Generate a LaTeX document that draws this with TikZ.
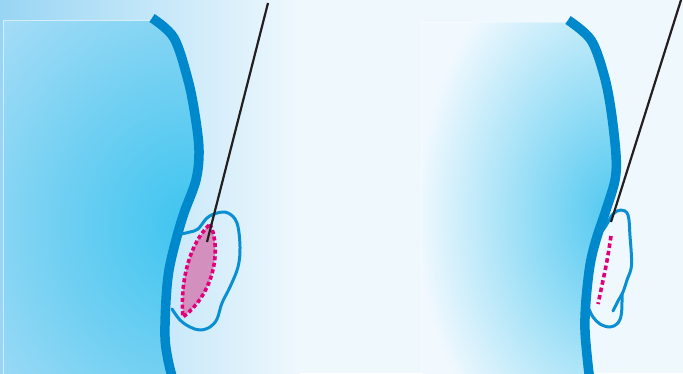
\documentclass[tikz,border=0pt]{standalone}
\usetikzlibrary{calc}
\definecolor{bgleft}{HTML}{98D5F4}
\definecolor{bgpale}{HTML}{EFF8FD}
\definecolor{glowA}{HTML}{3CC4F0}
\definecolor{glowB}{HTML}{72D0F2}
\definecolor{glowC}{HTML}{A9DDF7}
\definecolor{hazeA}{HTML}{50C8F0}
\definecolor{hazeB}{HTML}{F2F9FE}
\definecolor{wallblue}{HTML}{0088CC}
\definecolor{lumpblue}{HTML}{0A90D2}
\definecolor{needlegray}{HTML}{231F20}
\definecolor{marginpink}{HTML}{E2007A}
\definecolor{lensfill}{HTML}{D390BE}
% radial glows: 25bp is the rim of the shaded ellipse
\pgfdeclareradialshading{leftglow}{\pgfpoint{0bp}{0bp}}{color(0bp)=(glowA); color(12.5bp)=(glowB); color(25bp)=(glowC); color(50bp)=(glowC)}
\pgfdeclareradialshading{rightglow}{\pgfpoint{0bp}{0bp}}{color(0bp)=(hazeA); color(25bp)=(hazeB); color(50bp)=(hazeB)}
\tikzset{
  wall/.style={draw=wallblue, line width=9.5pt},
  lumpline/.style={draw=lumpblue, line width=3pt, line join=round, line cap=round},
  needle/.style={draw=needlegray, line width=2.2pt},
  margindash/.style={draw=marginpink, line width=3.6pt, dash pattern=on 4pt off 2.6pt},
  panelrim/.style={draw=white, draw opacity=0.55, line width=0.8pt},
}
\begin{document}
\begin{tikzpicture}[x=1pt, y=-1pt]
\useasboundingbox (0,0) rectangle (683,373);
\clip (0,0) rectangle (683,373);

% pale backdrop, bluer towards the left
\fill[bgpale] (0,0) rectangle (683,373);
\shade[left color=bgleft, right color=bgpale] (0,0) rectangle (300,373);

% left tissue block
\begin{scope}
  \clip (3.5,20.5) -- (152,20.5) -- plot[smooth, tension=0.55] coordinates {(152,18) (174,38) (188,80) (195,115) (199,150) (196,180) (184,213) (176,240) (169,270) (166,300) (165,337) (168,360) (173,380)} -- (3.5,380) -- cycle;
  \fill[glowC] (0,0) rectangle (260,380);
  \shade[shading=leftglow] (195,225) ellipse (280 and 300);
\end{scope}
\draw[panelrim] (3.5,380) -- (3.5,20.5) -- (150,20.5);

% right tissue block
\begin{scope}
  \clip (421,22) -- (568,22) -- plot[smooth, tension=0.55] coordinates {(568,20) (591,40) (604,75) (611,110) (616,155) (615,180) (606,210) (596,240) (590,265) (586,300) (585,330) (588,365) (590,380)} -- (421,380) -- cycle;
  \fill[hazeB] (421,0) rectangle (640,380);
  \shade[shading=rightglow] (615,215) ellipse (200 and 280);
\end{scope}
\draw[panelrim, draw opacity=0.35] (421,380) -- (421,22) -- (566,22);

% lumps beside the walls
\draw[lumpline] plot[smooth, tension=0.6] coordinates {(181,234) (190,232) (198,229) (207,218) (217,213) (228,213) (237,223) (240,247) (238,267) (230,287) (222,303) (217,319) (210,327) (200,330) (190,327) (180,320) (172,309)};
\draw[lumpline] plot[smooth, tension=0.6] coordinates {(599,234) (603,230) (607,224) (613,214) (621,210) (628,215) (630,236) (631.5,265) (627,280) (623,292) (618,301) (613,311)};
\draw[lumpline] plot[smooth, tension=0.6] coordinates {(622,294) (621.5,313) (618,323) (610,327) (600,324) (593,317) (589,309)};

% walls
\draw[wall] plot[smooth, tension=0.55] coordinates {(152,18) (174,38) (188,80) (195,115) (199,150) (196,180) (184,213) (176,240) (169,270) (166,300) (165,337) (168,360) (173,380)};
\draw[wall] plot[smooth, tension=0.55] coordinates {(568,20) (591,40) (604,75) (611,110) (616,155) (615,180) (606,210) (596,240) (590,265) (586,300) (585,330) (588,365) (590,380)};

% lens with dotted margin, and the plain margin line
\fill[lensfill] (210,224) .. controls (221,247) and (216,292) .. (183,317) .. controls (180,285) and (188,245) .. (210,224) -- cycle;
\draw[margindash] (210,224) .. controls (221,247) and (216,292) .. (183,317) .. controls (180,285) and (188,245) .. (210,224);
\draw[margindash, dash pattern=on 4.5pt off 3pt] (611,236) .. controls (607,262) .. (598,304);

% needles
\coordinate (tipL) at (207,242);
\coordinate (topL) at (268,3);
\coordinate (tipR) at (611,222);
\coordinate (topR) at (681,0);
\draw[needle] (topL) -- (tipL);
\draw[needle] (topR) -- (tipR);
\end{tikzpicture}
\end{document}
